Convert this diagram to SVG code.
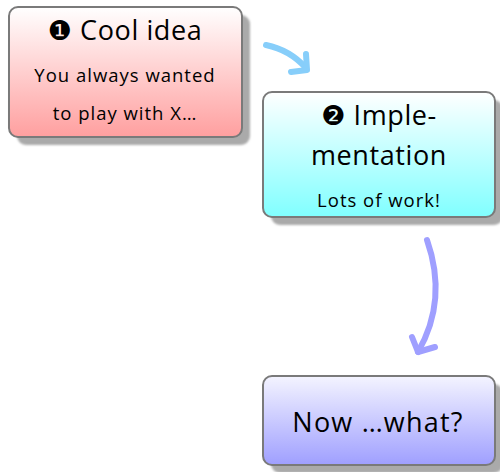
<svg xmlns="http://www.w3.org/2000/svg" width="500" height="472" viewBox="0 0 500 472">
<style>
.box{stroke:#7a7a7a;stroke-width:2}
.sh{fill:#aaaaaa}
.t{font-family:"Open Sans","DejaVu Sans",sans-serif;fill:#000;text-anchor:middle}
.big{font-size:27px;letter-spacing:0.6px}
.sm{font-size:18.5px;letter-spacing:1px}
.c{fill:none;stroke-width:6;stroke-linecap:round;stroke-linejoin:round}
</style>
<defs>
<linearGradient id="g1" x1="0" y1="0" x2="0" y2="1"><stop offset="0" stop-color="#ffffff"/><stop offset="1" stop-color="#ff9f9f"/></linearGradient>
<linearGradient id="g2" x1="0" y1="0" x2="0" y2="1"><stop offset="0" stop-color="#ffffff"/><stop offset="1" stop-color="#80ffff"/></linearGradient>
<linearGradient id="g3" x1="0" y1="0" x2="0" y2="1"><stop offset="0" stop-color="#f4f4ff"/><stop offset="1" stop-color="#9f9fff"/></linearGradient>
<filter id="blur" x="-10%" y="-10%" width="120%" height="120%"><feGaussianBlur stdDeviation="0.8"/></filter>
</defs>
<g id="n1">
<rect class="sh" x="17" y="15" width="233" height="130" rx="9" filter="url(#blur)"/>
<rect class="box" x="9" y="7" width="233" height="130" rx="9" fill="url(#g1)"/>
<text class="t big" x="125" y="40">❶ Cool idea</text>
<text class="t sm" x="125" y="82">You always wanted</text>
<text class="t sm" x="125" y="120">to play with X…</text>
</g>
<g id="n2">
<rect class="sh" x="271" y="100" width="232" height="125" rx="9" filter="url(#blur)"/>
<rect class="box" x="263" y="92" width="232" height="125" rx="9" fill="url(#g2)"/>
<text class="t big" x="379" y="125">❷ Imple-</text>
<text class="t big" x="379" y="165">mentation</text>
<text class="t sm" x="379" y="207">Lots of work!</text>
</g>
<g id="n3">
<rect class="sh" x="271" y="384" width="232" height="89" rx="9" filter="url(#blur)"/>
<rect class="box" x="263" y="376" width="232" height="89" rx="9" fill="url(#g3)"/>
<text class="t big" x="378" y="432" style="letter-spacing:1.2px">Now …what?</text>
</g>
<g id="connectors">
<path class="c" stroke="#87cefa" d="M266,45 Q290,50 306,68"/>
<path class="c" stroke="#87cefa" d="M306,54 L307,70 L291,72"/>
<path class="c" stroke="#9f9fff" d="M427,240 Q448,300 418,352"/>
<path class="c" stroke="#9f9fff" d="M412,337 L418,352 L435,347"/>
</g>
</svg>
